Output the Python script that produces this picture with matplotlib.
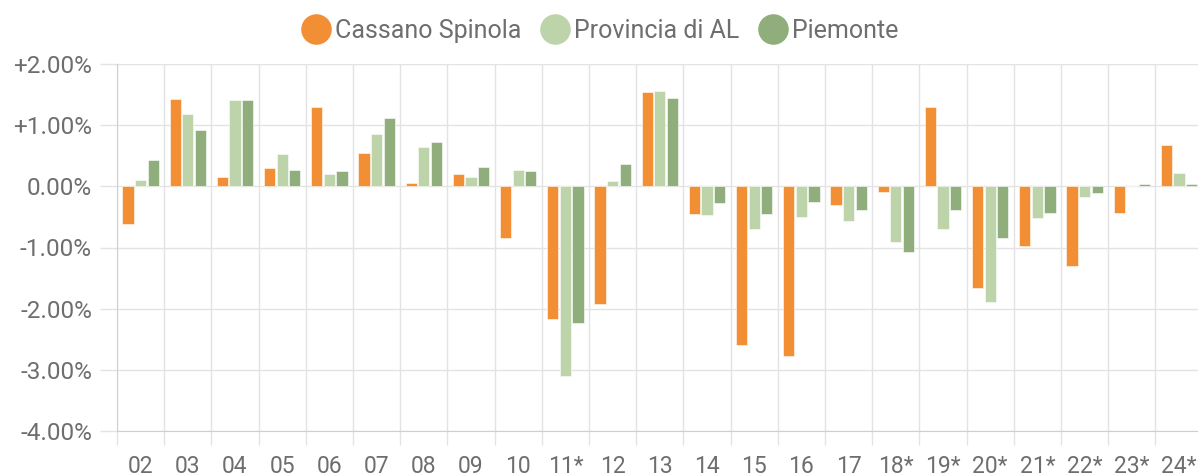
import numpy as np
import matplotlib
matplotlib.use("Agg")
import matplotlib.pyplot as plt
from matplotlib.lines import Line2D
from matplotlib.ticker import FuncFormatter, FixedLocator

# values in percent
categories = ["02", "03", "04", "05", "06", "07", "08", "09", "10", "11*", "12", "13",
              "14", "15", "16", "17", "18*", "19*", "20*", "21*", "22*", "23*", "24*"]
cassano = [-0.61, 1.43, 0.16, 0.30, 1.30, 0.55, 0.06, 0.20, -0.84, -2.17, -1.92, 1.54,
           -0.45, -2.60, -2.77, -0.31, -0.10, 1.30, -1.66, -0.97, -1.31, -0.44, 0.67]
provincia = [0.10, 1.18, 1.41, 0.53, 0.20, 0.86, 0.65, 0.16, 0.27, -3.10, 0.09, 1.56,
             -0.47, -0.70, -0.50, -0.57, -0.91, -0.70, -1.89, -0.51, -0.18, 0.01, 0.21]
piemonte = [0.43, 0.92, 1.41, 0.27, 0.25, 1.12, 0.72, 0.31, 0.25, -2.23, 0.37, 1.44,
            -0.27, -0.45, -0.26, -0.38, -1.07, -0.39, -0.84, -0.43, -0.11, 0.03, 0.03]
series = [("Cassano Spinola", cassano, "#f28e33"),
          ("Provincia di AL", provincia, "#bdd3a9"),
          ("Piemonte", piemonte, "#8fae7b")]
yticks = [-4, -3, -2, -1, 0, 1, 2]

plt.rcParams["font.family"] = ["Roboto", "DejaVu Sans"]
txt = "#6e6e6e"
grid = "#e3e3e3"

W, H = 1198, 476
fig = plt.figure(figsize=(W / 100, H / 100), dpi=100)
cat_w = 47.2
ax = fig.add_axes([117 / W, 1 - 431 / H, 23 * cat_w / W, (431 - 64) / H])

x = np.arange(len(categories))
slot = 0.8 / 3
for i, (name, vals, col) in enumerate(series):
    ax.bar(x + (i - 1) * slot, vals, width=slot * 0.9, color=col,
           edgecolor="white", linewidth=0.4, zorder=3)

ax.set_xlim(-0.5, len(categories) - 0.5)
ax.set_ylim(-4, 2)
ax.set_xticks(x)
ax.set_xticklabels(categories)
ax.xaxis.set_minor_locator(FixedLocator(x - 0.5))
ax.tick_params(axis="x", which="major", length=0, pad=17, labelsize=16.5, labelcolor=txt)
ax.tick_params(axis="x", which="minor", length=10, color=grid, width=1)
ax.grid(axis="x", which="minor", color=grid, lw=1, zorder=0)

ax.set_yticks(yticks)
ax.yaxis.set_major_formatter(FuncFormatter(
    lambda v, _: f"+{v:.2f}%" if v > 0 else f"{v:.2f}%"))
ax.tick_params(axis="y", length=12, color=grid, width=1, pad=6, labelsize=17.5,
               labelcolor=txt)
ax.grid(axis="y", color=grid, lw=1, zorder=0)

for s in ("top", "right"):
    ax.spines[s].set_visible(False)
ax.spines["left"].set_color("#cfcfcf")
ax.spines["bottom"].set_color("#cfcfcf")

handles = [Line2D([], [], ls="", marker="o", markersize=22, color=c, markeredgewidth=0)
           for _, _, c in series]
fig.legend(handles, [n for n, _, _ in series], loc="center", bbox_to_anchor=(0.5, 1 - 31 / H),
           ncol=3, frameon=False, fontsize=18, labelcolor=txt, handletextpad=0.1,
           columnspacing=0.7, handlelength=1.3)

fig.savefig("out.png", dpi=100)
